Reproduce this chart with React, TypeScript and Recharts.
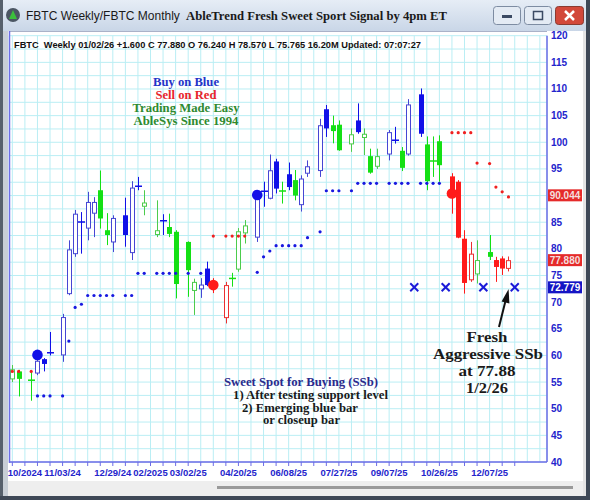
import React from 'react';
import { ComposedChart, Bar, Line, XAxis, YAxis, CartesianGrid, ReferenceLine } from 'recharts';

// one slot per week; null = empty slot
const slotIds = Array.from({ length: 85 }, (_, i) => i);

const trend = [
  'g', 'g', null, 'g', 'b', 'b', 'b', null, 'b', 'b',
  'b', 'b', 'b', 'b', 'g', 'g', 'b', null, 'b', 'b',
  'b', 'g', null, 'g', 'b', 'g', 'g', null, 'g', 'g',
  'b', 'b', 'r', null, 'r', 'g', 'g', 'g', null, 'b',
  'b', 'b', 'b', 'g', 'b', 'g', 'b', 'b', null, 'b',
  'b', 'g', 'g', null, 'g', 'b', 'g', 'g', 'g', null,
  'b', 'b', 'g', 'b', null, 'b', 'g', 'g', 'g', null,
  'r', 'r', 'r', 'r', 'g', null, 'g', 'r', 'r', 'r',
  null, null, null, null, null,
];

const opens = [
  55.5, 57.0, null, 55.3, 56.6, 59.3, 60.4, null, 60.0, 71.5,
  79.0, 85.0, 83.8, 86.6, 91.0, 83.5, 81.2, null, 86.3, 79.2,
  91.7, 87.9, null, 82.6, 85.2, 84.1, 83.2, null, 81.3, 72.1,
  72.4, 76.3, 73.8, null, 67.0, 74.4, 76.1, 82.9, null, 82.1,
  90.7, 89.4, 96.4, 90.8, 94.0, 92.9, 88.2, 94.1, null, 94.6,
  106.2, 103.2, 103.3, null, 99.6, 104.1, 100.8, 97.4, 95.4, null,
  97.7, 100.3, 98.4, 97.7, null, 109.0, 99.6, 96.4, 100.2, null,
  93.6, 92.6, 81.9, 74.1, 75.2, null, 79.4, 77.9, 78.2, 76.24,
  null, null, null, null, null,
];

const highs = [
  58.2, 57.3, null, 57.0, 59.5, 59.5, 64.4, null, 67.8, 81.6,
  87.3, 86.9, 90.7, 89.7, 94.7, 86.7, 86.3, null, 89.6, 92.7,
  93.5, 91.0, null, 89.1, 86.5, 86.6, 83.5, null, 81.4, 74.4,
  74.5, 77.6, 74.5, null, 73.8, 75.5, 83.9, 85.4, null, 90.5,
  92.6, 97.7, 96.9, 92.6, 96.2, 94.8, 93.8, 96.6, null, 104.4,
  107.0, 105.0, 104.1, null, 102.6, 107.3, 102.6, 98.8, 98.8, null,
  102.3, 102.9, 99.1, 108.1, null, 110.1, 101.1, 101.1, 101.3, null,
  94.2, 92.9, 83.5, 81.3, 81.6, null, 82.6, 78.5, 78.6, 78.57,
  null, null, null, null, null,
];

const lows = [
  55.0, 52.3, null, 51.5, 56.3, 57.0, 60.0, null, 58.8, 71.3,
  78.5, 79.1, 81.6, 82.2, 83.8, 80.7, 79.4, null, 80.4, 77.9,
  91.0, 86.3, null, 82.2, 82.6, 82.2, 70.7, null, 71.0, 67.6,
  70.8, 73.0, 71.7, null, 66.0, 72.9, 75.7, 81.0, null, 81.3,
  87.9, 89.3, 90.4, 88.5, 91.0, 89.1, 87.0, 93.5, null, 93.5,
  101.0, 99.8, 98.4, null, 98.2, 101.6, 97.6, 94.1, 95.0, null,
  96.6, 99.75, 94.6, 97.5, null, 101.0, 91.0, 93.5, 92.6, null,
  86.6, 82.0, 71.6, 73.8, 73.5, null, 77.9, 73.8, 75.1, 75.765,
  null, null, null, null, null,
];

const closes = [
  57.4, 55.6, null, 55.4, 59.0, 58.4, 60.6, null, 67.2, 79.9,
  86.6, 85.1, 88.8, 88.8, 85.7, 82.6, 85.8, null, 82.6, 91.5,
  91.8, 88.7, null, 83.5, 85.3, 82.8, 73.4, null, 76.0, 73.8,
  73.3, 73.2, 72.7, null, 73.2, 74.5, 83.3, 84.4, null, 89.4,
  90.9, 94.75, 91.3, 90.9, 91.6, 90.0, 93.2, 95.5, null, 103.2,
  102.6, 102.1, 98.5, null, 101.5, 101.9, 101.6, 94.3, 97.4, null,
  101.9, 100.5, 95.2, 107.1, null, 101.6, 92.7, 96.6, 95.7, null,
  89.8, 82.1, 73.6, 79.1, 77.9, null, 78.5, 76.6, 76.3, 77.88,
  null, null, null, null, null,
];

// blue support dots
const support = [
  null, null, null, null, 52.4, 52.4, 52.4, null, 52.4, 62.7,
  69.0, 69.6, 71.25, 71.25, 71.25, 71.25, 71.25, null, 71.25, 71.25,
  75.4, 75.4, null, 75.4, 75.4, 75.4, 75.4, null, 75.4, null,
  75.4, null, null, null, null, null, null, null, null, 75.6,
  78.5, 79.6, 80.6, 80.6, 80.6, 80.6, 80.6, 82.1, null, 83.2,
  90.9, 90.9, 90.9, null, 90.9, 92.3, 92.3, 92.3, 92.3, null,
  92.3, 92.3, 92.3, 92.3, null, 92.3, 92.3, 92.3, 92.3, null,
  null, null, null, null, null, null, null, null, null, null,
  null, null, null, null, null,
];

// red resistance dots
const resistance = [
  57.0, 57.0, null, 57.0, null, null, null, null, null, null,
  null, null, null, null, null, null, null, null, null, null,
  null, null, null, null, null, null, null, null, null, null,
  null, null, 82.4, null, 82.4, 82.4, 82.4, 82.4, null, null,
  null, null, null, null, null, null, null, null, null, null,
  null, null, null, null, null, null, null, null, null, null,
  null, null, null, null, null, null, null, null, null, null,
  101.8, 101.8, 101.8, 101.8, 96.1, null, 96.0, 91.6, 90.7, 89.75,
  null, null, null, null, null,
];

const buySignalSlots = [4, 39];
const buySignalPrices = [60.1, 90.1];
const sellSignalSlots = [32, 70];
const sellSignalPrices = [73.2, 90.4];
const ssbSlots = [64, 69, 75, 80];
const ssbLevel = 72.78;

const xTickSlots = [0, 2, 4, 6, 8, 10, 12, 14, 16, 18, 20, 22, 24, 26, 28, 30, 32, 34, 36, 38, 40, 42,
  44, 46, 48, 50, 52, 54, 56, 58, 60, 62, 64, 66, 68, 70, 72, 74, 76, 78, 80, 82, 84];
const xLabelSlots = [2, 8, 16, 22, 28, 36, 44, 52, 60, 68, 76];
const xLabels = ['10/2024', '11/03/24', '12/29/24', '02/2025', '03/02/25', '04/20/25', '06/08/25',
  '07/27/25', '09/07/25', '10/26/25', '12/07/25'];
const yTicks = [40, 42.5, 45, 47.5, 50, 52.5, 55, 57.5, 60, 62.5, 65, 67.5, 70, 72.5, 75, 77.5, 80,
  82.5, 85, 87.5, 90, 92.5, 95, 97.5, 100, 102.5, 105, 107.5, 110, 112.5, 115, 117.5, 120];

const priceTags = [
  { value: 90.044, text: '90.044', bg: '#e52a2a', fg: '#f4dede' },
  { value: 77.88, text: '77.880', bg: '#e52a2a', fg: '#f4dede' },
  { value: 72.779, text: '72.779', bg: '#1414c4', fg: '#ffffff' },
];

const PALETTE: Record<string, { fill: string; line: string }> = {
  b: { fill: '#1010e8', line: '#4646d4' },
  g: { fill: '#14e014', line: '#4ccc4c' },
  r: { fill: '#ff1a1a', line: '#ec3030' },
};
const AXIS = '#6c6ce6';
const AXIS_TEXT = '#2424cc';
const SANS = '"Liberation Sans", Arial, sans-serif';
const SERIF = '"Liberation Serif", "Times New Roman", serif';

const rows = slotIds.map((i) => ({
  slot: i,
  t: trend[i],
  o: opens[i],
  h: highs[i],
  l: lows[i],
  c: closes[i],
  sup: support[i],
  res: resistance[i],
  buy: buySignalSlots.includes(i) ? buySignalPrices[buySignalSlots.indexOf(i)] : null,
  sell: sellSignalSlots.includes(i) ? sellSignalPrices[sellSignalSlots.indexOf(i)] : null,
  ssb: ssbSlots.includes(i) ? ssbLevel : null,
}));

function Candle(props: any) {
  const { x, y, width, height, payload } = props;
  if (!payload || payload.h == null || !isFinite(y) || !isFinite(height)) return <g />;
  const top = Math.min(y, y + height);
  const span = Math.abs(height);
  const py = (v: number) => top + ((payload.h - v) / (payload.h - payload.l)) * span;
  const cx = Math.round(x + width / 2);
  const pal = PALETTE[payload.t];
  const hollow = payload.c > payload.o;
  const doji = Math.abs(payload.c - payload.o) < 0.35;
  const bTop = py(Math.max(payload.o, payload.c));
  const bBot = py(Math.min(payload.o, payload.c));
  const col = hollow && !doji ? pal.line : pal.fill;
  return (
    <g>
      <line x1={cx + 0.5} x2={cx + 0.5} y1={py(payload.h)} y2={py(payload.l)} stroke={col} strokeWidth={1} />
      {doji ? (
        <line x1={cx - 3} x2={cx + 4} y1={(bTop + bBot) / 2} y2={(bTop + bBot) / 2} stroke={col} strokeWidth={1.5} />
      ) : hollow ? (
        <rect x={cx - 1.5} y={bTop + 0.5} width={4} height={Math.max(0.5, bBot - bTop - 1)} fill="#ffffff" stroke={col} strokeWidth={1} />
      ) : (
        <rect x={cx - 2} y={bTop} width={5} height={Math.max(1, bBot - bTop)} fill={col} />
      )}
    </g>
  );
}

function CrossMark(props: any) {
  const { cx, cy, index, value } = props;
  if (value == null || cy == null || !isFinite(cy)) return <g key={index} />;
  return (
    <g key={index}>
      <line x1={cx - 4} x2={cx + 4} y1={cy - 4} y2={cy + 4} stroke="#1a1ad8" strokeWidth={2} />
      <line x1={cx - 4} x2={cx + 4} y1={cy + 4} y2={cy - 4} stroke="#1a1ad8" strokeWidth={2} />
    </g>
  );
}

function XTick(props: any) {
  const { x, y, payload } = props;
  const v = payload.value;
  const k = xLabelSlots.indexOf(v);
  return (
    <g>
      {v <= 80 && <line x1={x} x2={x} y1={y} y2={y + 4} stroke={AXIS} strokeWidth={1} />}
      {k >= 0 && (
        <text x={x} y={y + 14} textAnchor="middle" fontSize={9.5} fontWeight="bold" fill={AXIS_TEXT} fontFamily={SANS}>
          {xLabels[k]}
        </text>
      )}
    </g>
  );
}

function YTick(props: any) {
  const { x, y, payload } = props;
  const v = payload.value;
  // the price tag sits over the label it covers
  if (v % 5 !== 0 || priceTags.some((p) => Math.abs(p.value - v) < 0.5)) return <g />;
  return (
    <text x={x + 4} y={y + 3.5} fontSize={10} fontWeight="bold" fill={AXIS_TEXT} fontFamily={SANS}>
      {v}
    </text>
  );
}

function PriceTag(props: any) {
  const { viewBox, text, bg, fg } = props;
  if (!viewBox) return null;
  const x = viewBox.x + viewBox.width + 1;
  const y = viewBox.y;
  return (
    <g>
      <rect x={x} y={y - 6} width={34} height={12} fill={bg} />
      <text x={x + 17} y={y + 3.5} textAnchor="middle" fontSize={10} fontWeight="bold" fill={fg} fontFamily={SANS}>
        {text}
      </text>
    </g>
  );
}

export default function App() {
  return (
    <div style={{ position: 'absolute', left: 0, top: 0, width: 590, height: 500, overflow: 'hidden', background: '#eeeeee', fontFamily: SANS }}>
      {/* window frame */}
      <div style={{ position: 'absolute', left: 0, top: 0, width: 590, height: 31, background: 'linear-gradient(#e6edf6, #c9d6e7)', borderBottom: '1px solid #a9b5c6' }} />
      <div style={{ position: 'absolute', left: 0, top: 0, width: 3, height: 500, background: '#56606c' }} />
      <div style={{ position: 'absolute', left: 3, top: 31, width: 5, height: 466, background: '#c7ced6' }} />
      <div style={{ position: 'absolute', left: 8, top: 31, width: 575, height: 450, background: '#ffffff' }} />
      <div style={{ position: 'absolute', left: 583, top: 31, width: 3, height: 466, background: '#e4e4e4' }} />
      <div style={{ position: 'absolute', left: 586, top: 0, width: 4, height: 500, background: '#3e4856' }} />
      <div style={{ position: 'absolute', left: 0, top: 496, width: 590, height: 4, background: '#3e4856' }} />
      <div style={{ position: 'absolute', left: 217, top: 486, width: 356, height: 3, background: '#9a9a9a' }} />
      <div style={{ position: 'absolute', left: 9, top: 31, width: 538, height: 1, background: '#aab2c8' }} />

      {/* title bar */}
      <svg width={590} height={31} style={{ position: 'absolute', left: 0, top: 0 }}>
        <circle cx={13} cy={15} r={7} fill="#4b5663" />
        <path d="M9 19 L13 10 L17 19 Z" fill="#3cbf3c" />
        <text x={26} y={20} fontSize={12} fill="#1a1a1a" fontFamily={SANS}>FBTC  Weekly/FBTC  Monthly</text>
        <text x={186} y={20} fontSize={13} fontWeight="bold" fill="#1a1a1a" fontFamily={SERIF} textLength={261} lengthAdjust="spacingAndGlyphs">
          AbleTrend Fresh Sweet Sport Signal by 4pm ET
        </text>
        <rect x={493.5} y={6.5} width={27} height={18} rx={3} fill="#e4ebf4" stroke="#7d8ca2" />
        <rect x={502} y={15} width={10} height={3} fill="#3b4a63" />
        <rect x={524.5} y={6.5} width={27} height={18} rx={3} fill="#e4ebf4" stroke="#7d8ca2" />
        <rect x={533.5} y={11.5} width={9} height={8} fill="none" stroke="#3b4a63" strokeWidth={1.5} />
        <rect x={555.5} y={6.5} width={28} height={18} rx={3} fill="#d2483a" stroke="#8a3a30" />
        <path d="M565 11 L574 20 M574 11 L565 20" stroke="#ffffff" strokeWidth={2.5} />
      </svg>

      <div style={{ position: 'absolute', left: 0, top: 0 }}>
        <ComposedChart width={590} height={500} data={rows} margin={{ top: 35.7, right: 0, bottom: 18, left: 9.2 }}>
          <CartesianGrid stroke="#baeef4" strokeWidth={1} />
          <XAxis
            dataKey="slot"
            type="category"
            ticks={xTickSlots}
            interval={0}
            tick={<XTick />}
            tickLine={false}
            tickSize={0}
            tickMargin={0}
            height={20}
            padding={{ left: 0, right: 4 }}
            axisLine={{ stroke: AXIS, strokeWidth: 1.5 }}
          />
          <YAxis
            orientation="right"
            type="number"
            domain={[40, 120]}
            allowDataOverflow
            ticks={yTicks}
            interval={0}
            width={43}
            tick={<YTick />}
            tickLine={false}
            tickSize={0}
            tickMargin={0}
            axisLine={{ stroke: AXIS, strokeWidth: 1.5 }}
          />
          <Line dataKey="sup" stroke="none" strokeWidth={0} dot={{ r: 1.6, fill: '#1818e0', stroke: 'none' }} activeDot={false} isAnimationActive={false} />
          <Line dataKey="res" stroke="none" strokeWidth={0} dot={{ r: 1.6, fill: '#f02020', stroke: 'none' }} activeDot={false} isAnimationActive={false} />
          <Bar dataKey={(d: any) => (d.h == null ? null : [d.l, d.h])} shape={<Candle />} isAnimationActive={false} />
          <Line dataKey="buy" stroke="none" strokeWidth={0} dot={{ r: 5.3, fill: '#1010e8', stroke: 'none' }} activeDot={false} isAnimationActive={false} />
          <Line dataKey="sell" stroke="none" strokeWidth={0} dot={{ r: 5.3, fill: '#ff1a1a', stroke: 'none' }} activeDot={false} isAnimationActive={false} />
          <Line dataKey="ssb" stroke="none" strokeWidth={0} dot={(p: any) => <CrossMark {...p} />} activeDot={false} isAnimationActive={false} />
          {priceTags.map((p) => (
            <ReferenceLine key={p.text} y={p.value} stroke="none" label={<PriceTag text={p.text} bg={p.bg} fg={p.fg} />} />
          ))}
        </ComposedChart>
      </div>

      {/* annotations */}
      <svg width={590} height={500} style={{ position: 'absolute', left: 0, top: 0, pointerEvents: 'none' }}>
        <line x1={9.5} x2={9.5} y1={31} y2={463} stroke={AXIS} strokeWidth={1.5} />
        <text x={14} y={48} fontSize={9.5} fontWeight="bold" fill="#111111" fontFamily={SANS} textLength={407} lengthAdjust="spacingAndGlyphs" style={{ whiteSpace: 'pre' }}>
          FBTC  Weekly 01/02/26 +1.600 C 77.880 O 76.240 H 78.570 L 75.765 16.20M Updated: 07:07:27
        </text>
        <g fontFamily={SERIF} fontWeight="bold" fontSize={12} textAnchor="middle">
          <text x={186} y={86} fill="#2433c8" textLength={66} lengthAdjust="spacingAndGlyphs">Buy on Blue</text>
          <text x={186} y={99} fill="#e8262b" textLength={61} lengthAdjust="spacingAndGlyphs">Sell on Red</text>
          <text x={186} y={112} fill="#2f8a2f" textLength={107} lengthAdjust="spacingAndGlyphs">Trading Made Easy</text>
          <text x={186} y={125} fill="#2f8a2f" textLength={105} lengthAdjust="spacingAndGlyphs">AbleSys Since 1994</text>
        </g>
        <g fontFamily={SERIF} fontWeight="bold" fontSize={11.5}>
          <text x={224} y={386} fill="#2a2a8c" textLength={154} lengthAdjust="spacingAndGlyphs">Sweet Spot for Buying (SSb)</text>
          <text x={233} y={399} fill="#1a1a1a" textLength={155} lengthAdjust="spacingAndGlyphs">1) After testing support level</text>
          <text x={242} y={411.5} fill="#1a1a1a" textLength={116} lengthAdjust="spacingAndGlyphs">2) Emerging blue bar</text>
          <text x={263} y={424} fill="#1a1a1a" textLength={77} lengthAdjust="spacingAndGlyphs">or closeup bar</text>
        </g>
        <g fontFamily={SERIF} fontWeight="bold" fontSize={15.5} fill="#1a1a1a" textAnchor="middle">
          <text x={487} y={342} textLength={41} lengthAdjust="spacingAndGlyphs">Fresh</text>
          <text x={488} y={359} textLength={110} lengthAdjust="spacingAndGlyphs">Aggressive SSb</text>
          <text x={487} y={376} textLength={57} lengthAdjust="spacingAndGlyphs">at 77.88</text>
          <text x={487} y={393} textLength={42} lengthAdjust="spacingAndGlyphs">1/2/26</text>
        </g>
        <line x1={499} y1={327} x2={505.2} y2={302} stroke="#111111" strokeWidth={2} />
        <path d="M508.6 289 L509.4 303.4 L501.6 301.4 Z" fill="#111111" />
      </svg>
    </div>
  );
}
